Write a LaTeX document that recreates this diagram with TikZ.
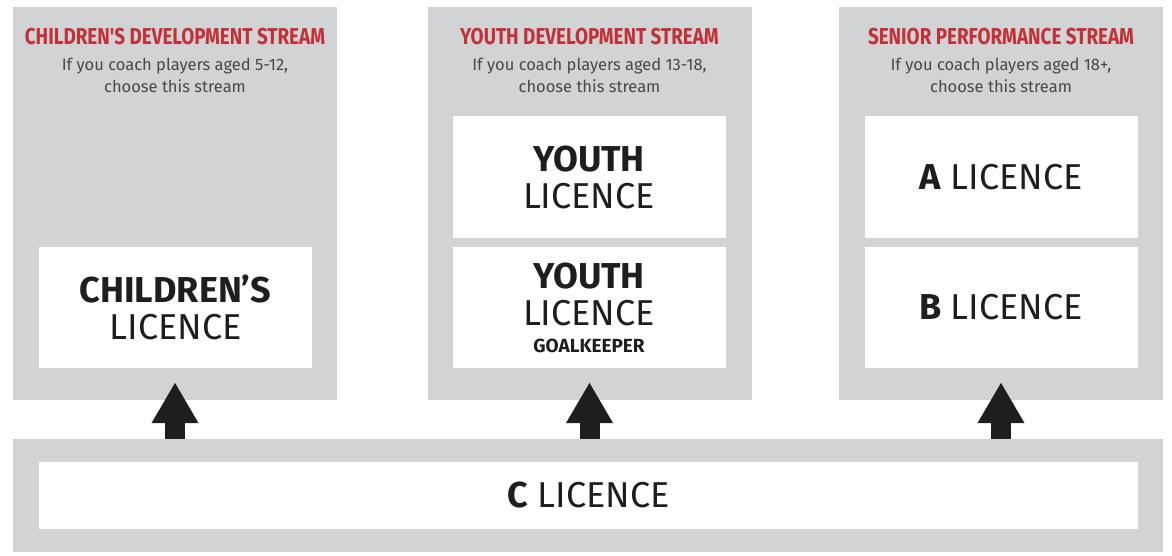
\documentclass[tikz,border=0pt]{standalone}
\usepackage{fontspec}
\setmainfont{Fira Sans}
\newfontfamily\streamfont[FakeStretch=0.82]{Fira Sans}
\usetikzlibrary{arrows.meta,positioning}

\definecolor{streamgrey}{RGB}{209,211,212}
\definecolor{streamred}{RGB}{196,48,56}
\definecolor{notegrey}{RGB}{72,72,72}
\definecolor{licblack}{RGB}{30,30,30}

\tikzset{
  column/.style={rectangle, fill=streamgrey, inner sep=0pt,
      minimum width=324pt, minimum height=393pt},
  licbox/.style={rectangle, fill=white, inner sep=0pt, align=center,
      text=licblack, font=\fontsize{36}{37}\selectfont,
      minimum width=273pt, minimum height=121pt},
  streamtitle/.style={anchor=north, inner sep=0pt, text=streamred,
      font=\streamfont\bfseries\fontsize{23}{23}\selectfont},
  streamnote/.style={anchor=north, inner sep=0pt, align=center, text=notegrey,
      font=\fontsize{16.5}{22}\selectfont},
  uparrow/.style={licblack, line width=20pt,
      -{Triangle[width=44pt,length=41pt]}}
}

\begin{document}
\begin{tikzpicture}[x=1pt, y=-1pt]
\useasboundingbox (0,0) rectangle (1172,556);

% children's stream
\node[column] (colkids) at (175,203.5) {};
\node[streamtitle] (titlekids) at (175,28) {CHILDREN'S DEVELOPMENT STREAM};
\node[streamnote] (notekids) at (175,58) {If you coach players aged 5-12,\\choose this stream};
\node[licbox] (kids) at (175.5,307.5) {\textbf{CHILDREN'S}\\LICENCE};

% youth stream
\node[column] (colyouth) at (589.5,203.5) {};
\node[streamtitle] (titleyouth) at (589.5,28) {YOUTH DEVELOPMENT STREAM};
\node[streamnote] (noteyouth) at (589.5,58) {If you coach players aged 13-18,\\choose this stream};
\node[licbox] (youth) at (589,177) {\textbf{YOUTH}\\LICENCE};
\node[licbox] (youthgk) at (589,307.5) {\textbf{YOUTH}\\LICENCE\\[-10pt]{\fontsize{19}{20}\selectfont\bfseries GOALKEEPER}};

% senior stream
\node[column] (colsenior) at (1001,203.5) {};
\node[streamtitle] (titlesenior) at (1001,28) {SENIOR PERFORMANCE STREAM};
\node[streamnote] (notesenior) at (1001,58) {If you coach players aged 18+,\\choose this stream};
\node[licbox] (alic) at (1001,177) {\textbf{A} LICENCE};
\node[licbox] (blic) at (1001,307.5) {\textbf{B} LICENCE};

% c licence
\node[rectangle, fill=streamgrey, inner sep=0pt,
    minimum width=1150pt, minimum height=113pt] (cbar) at (588,495.5) {};
\node[licbox, minimum width=1099pt, minimum height=67pt] (clic) at (588.5,495.5) {\textbf{C} LICENCE};

% arrows up
\draw[uparrow] (cbar.north -| colkids.south) -- ([yshift=18pt]colkids.south);
\draw[uparrow] (cbar.north -| colyouth.south) -- ([yshift=18pt]colyouth.south);
\draw[uparrow] (cbar.north -| colsenior.south) -- ([yshift=18pt]colsenior.south);

\end{tikzpicture}
\end{document}
